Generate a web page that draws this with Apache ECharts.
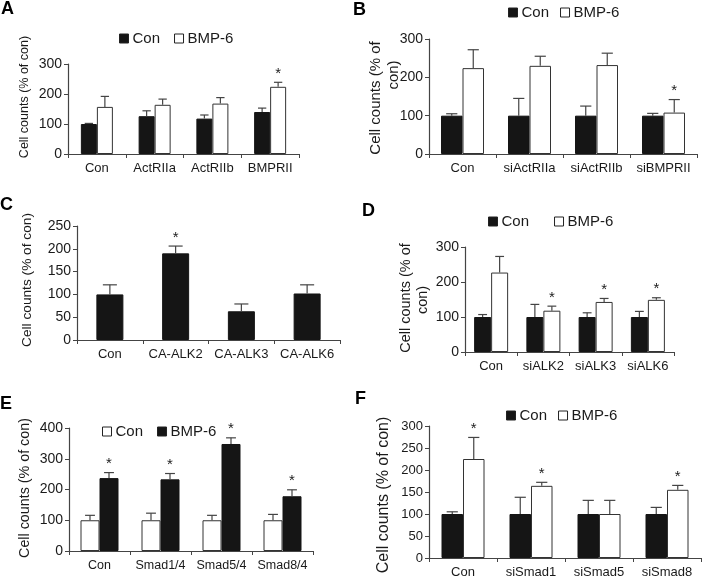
<!DOCTYPE html>
<html>
<head>
<meta charset="utf-8">
<script src="https://cdn.jsdelivr.net/npm/echarts@6/dist/echarts.min.js"></script>
<style>
html,body{margin:0;padding:0;background:#fff;}
#wrap{position:relative;width:702px;height:583px;overflow:hidden;}
.pane{position:absolute;left:0;top:0;width:702px;height:583px;}
</style>
</head>
<body>
<div id="wrap">
<div class="pane" id="pA"></div>
<div class="pane" id="pB"></div>
<div class="pane" id="pC"></div>
<div class="pane" id="pD"></div>
<div class="pane" id="pE"></div>
<div class="pane" id="pF"></div>
</div>
<script>
// ---------- DATA ----------
// Panel A
const catsA = ['Con', 'ActRIIa', 'ActRIIb', 'BMPRII'];
const aCon = [100, 126, 118, 140];
const aConSD = [2, 18, 12, 13];
const aBmp = [157, 164, 168, 224];
const aBmpSD = [35, 19, 20, 15];
const aStarBmp = [0, 0, 0, 1];
// Panel B
const catsB = ['Con', 'siActRIIa', 'siActRIIb', 'siBMPRII'];
const bCon = [100, 100, 100, 100];
const bConSD = [5, 45, 25, 6];
const bBmp = [224, 230, 232, 108];
const bBmpSD = [48, 25, 31, 34];
const bStarBmp = [0, 0, 0, 1];
// Panel C
const catsC = ['Con', 'CA-ALK2', 'CA-ALK3', 'CA-ALK6'];
const cVal = [100, 190, 63, 102];
const cSD = [21, 16, 16, 19];
const cStar = [0, 1, 0, 0];
// Panel D
const catsD = ['Con', 'siALK2', 'siALK3', 'siALK6'];
const dCon = [100, 100, 100, 100];
const dConSD = [7, 36, 12, 16];
const dBmp = [227, 118, 143, 149];
const dBmpSD = [46, 13, 10, 6];
const dStarBmp = [0, 1, 1, 1];
// Panel E
const catsE = ['Con', 'Smad1/4', 'Smad5/4', 'Smad8/4'];
const eCon = [100, 100, 100, 100];
const eConSD = [16, 23, 16, 19];
const eBmp = [237, 233, 348, 178];
const eBmpSD = [18, 19, 20, 21];
const eStarBmp = [1, 1, 1, 1];
// Panel F
const catsF = ['Con', 'siSmad1', 'siSmad5', 'siSmad8'];
const fCon = [100, 100, 100, 100];
const fConSD = [5, 38, 31, 15];
const fBmp = [225, 164, 100, 155];
const fBmpSD = [49, 8, 31, 10];
const fStarBmp = [1, 1, 0, 1];

const yTitle = 'Cell counts (% of con)';
const yTitle1 = 'Cell counts (% of';
const yTitle2 = 'con)';

// ---------- STYLE ----------
const FONT = '"Liberation Sans", Arial, Helvetica, sans-serif';
const BLACK = '#151515';
const AX = '#444';
const TXT = '#1a1a1a';

function errSeries(vals, sds, stars, offsetSign, barW) {
  return {
    type: 'custom',
    z: 5,
    silent: true,
    data: vals.map((v, i) => [i, v, v + sds[i], stars[i]]),
    renderItem: function (params, api) {
      const c = api.coord([api.value(0), api.value(1)]);
      const t = api.coord([api.value(0), api.value(2)]);
      const x = c[0] + offsetSign * barW / 2;
      const capHalf = Math.max(4, barW * 0.26);
      const children = [
        {type: 'line', shape: {x1: x, y1: c[1], x2: x, y2: t[1]}, style: {stroke: AX, lineWidth: 1.2}},
        {type: 'line', shape: {x1: x - capHalf, y1: t[1], x2: x + capHalf, y2: t[1]}, style: {stroke: AX, lineWidth: 1.2}}
      ];
      if (api.value(3)) {
        children.push({type: 'text', x: x, y: t[1] - 1, style: {text: '*', font: '15px ' + FONT, fill: TXT, align: 'center', verticalAlign: 'bottom'}});
      }
      return {type: 'group', children: children};
    }
  };
}

function barSeries(name, vals, fill, barW) {
  return {
    name: name,
    type: 'bar',
    data: vals,
    barWidth: barW,
    barGap: '0%',
    itemStyle: {color: fill, borderColor: fill === '#fff' ? '#333' : BLACK, borderWidth: 1},
    emphasis: {disabled: true},
    z: 3
  };
}

function axes(cats, max, interval, xFont, yFont) {
  return {
    xAxis: {
      type: 'category', data: cats,
      axisLine: {lineStyle: {color: AX, width: 1.2}},
      axisTick: {show: true, length: 4, lineStyle: {color: AX}},
      axisLabel: {color: TXT, fontSize: xFont, fontFamily: FONT, margin: 8, interval: 0}
    },
    yAxis: {
      type: 'value', min: 0, max: max, interval: interval,
      axisLine: {show: true, lineStyle: {color: AX, width: 1.2}},
      axisTick: {show: true, length: 4, lineStyle: {color: AX}},
      splitLine: {show: false},
      axisLabel: {color: TXT, fontSize: yFont, fontFamily: FONT, margin: 6}
    }
  };
}

function letter(ch, x, y) {
  return {type: 'text', x: x, y: y, style: {text: ch, font: 'bold 18px ' + FONT, fill: '#000', align: 'left', verticalAlign: 'top'}};
}
function vtext(t, x, y, size) {
  return {type: 'text', x: x, y: y, rotation: Math.PI / 2, style: {text: t, font: size + 'px ' + FONT, fill: TXT, align: 'center', verticalAlign: 'middle'}};
}

function legend(left, top, gap, names, fills) {
  return {
    left: left, top: top, itemGap: gap, itemWidth: 9, itemHeight: 9,
    icon: 'rect', selectedMode: false,
    textStyle: {fontSize: 15, fontFamily: FONT, color: TXT, padding: [0, 0, 0, -1]},
    data: names.map((n, i) => ({name: n, itemStyle: {color: fills[i], borderColor: '#222', borderWidth: 1}}))
  };
}

function makeChart(id, opt) {
  const ch = echarts.init(document.getElementById(id), null, {renderer: 'canvas'});
  opt.animation = false;
  ch.setOption(opt);
}

// ---------- PANEL A ----------
(function () {
  const bw = 16;
  const ax = axes(catsA, 300, 100, 13, 14);
  makeChart('pA', Object.assign({
    grid: {left: 68, top: 64, width: 231, height: 90},
    legend: legend(114, 26, 14, ['Con', 'BMP-6'], [BLACK, '#fff']),
    graphic: [letter('A', 1, 0), vtext(yTitle, 25, 97, 12.5)],
    series: [barSeries('Con', aCon, BLACK, bw), barSeries('BMP-6', aBmp, '#fff', bw),
      errSeries(aCon, aConSD, [0, 0, 0, 0], -1, bw), errSeries(aBmp, aBmpSD, aStarBmp, 1, bw)]
  }, ax));
})();

// ---------- PANEL B ----------
(function () {
  const bw = 21.5;
  const ax = axes(catsB, 300, 100, 13, 14);
  makeChart('pB', Object.assign({
    grid: {left: 429, top: 39, width: 268, height: 115},
    legend: legend(503, 0, 11, ['Con', 'BMP-6'], [BLACK, '#fff']),
    graphic: [letter('B', 353, 1), vtext(yTitle1, 376, 98, 15), vtext(yTitle2, 394, 75, 15)],
    series: [barSeries('Con', bCon, BLACK, bw), barSeries('BMP-6', bBmp, '#fff', bw),
      errSeries(bCon, bConSD, [0, 0, 0, 0], -1, bw), errSeries(bBmp, bBmpSD, bStarBmp, 1, bw)]
  }, ax));
})();

// ---------- PANEL C ----------
(function () {
  const bw = 27;
  const ax = axes(catsC, 250, 50, 13, 14);
  makeChart('pC', Object.assign({
    grid: {left: 77, top: 226, width: 263, height: 114},
    graphic: [letter('C', 0, 196), vtext(yTitle, 27, 280, 13.7)],
    series: [barSeries('Con', cVal, BLACK, bw), errSeries(cVal, cSD, cStar, 0, bw)]
  }, ax));
})();

// ---------- PANEL D ----------
(function () {
  const bw = 17;
  const ax = axes(catsD, 300, 100, 13, 14);
  makeChart('pD', Object.assign({
    grid: {left: 465, top: 247, width: 209, height: 105},
    legend: legend(483, 209, 25, ['Con', 'BMP-6'], [BLACK, '#fff']),
    graphic: [letter('D', 362, 202), vtext(yTitle1, 406, 298, 14.5), vtext(yTitle2, 423, 300, 14.5)],
    series: [barSeries('Con', dCon, BLACK, bw), barSeries('BMP-6', dBmp, '#fff', bw),
      errSeries(dCon, dConSD, [0, 0, 0, 0], -1, bw), errSeries(dBmp, dBmpSD, dStarBmp, 1, bw)]
  }, ax));
})();

// ---------- PANEL E ----------
(function () {
  const bw = 19;
  const ax = axes(catsE, 400, 100, 12.5, 14);
  makeChart('pE', Object.assign({
    grid: {left: 69, top: 428, width: 244, height: 123},
    legend: legend(97, 419, 14, ['Con', 'BMP-6'], ['#fff', BLACK]),
    graphic: [letter('E', 0, 395), vtext(yTitle, 25, 488, 14.3)],
    series: [barSeries('Con', eCon, '#fff', bw), barSeries('BMP-6', eBmp, BLACK, bw),
      errSeries(eCon, eConSD, [0, 0, 0, 0], -1, bw), errSeries(eBmp, eBmpSD, eStarBmp, 1, bw)]
  }, ax));
})();

// ---------- PANEL F ----------
(function () {
  const bw = 21.5;
  const ax = axes(catsF, 300, 50, 13, 13);
  makeChart('pF', Object.assign({
    grid: {left: 429, top: 426, width: 272, height: 132},
    legend: legend(501, 403, 11, ['Con', 'BMP-6'], [BLACK, '#fff']),
    graphic: [letter('F', 355, 390), vtext(yTitle, 384, 495, 16)],
    series: [barSeries('Con', fCon, BLACK, bw), barSeries('BMP-6', fBmp, '#fff', bw),
      errSeries(fCon, fConSD, [0, 0, 0, 0], -1, bw), errSeries(fBmp, fBmpSD, fStarBmp, 1, bw)]
  }, ax));
})();
</script>
</body>
</html>
